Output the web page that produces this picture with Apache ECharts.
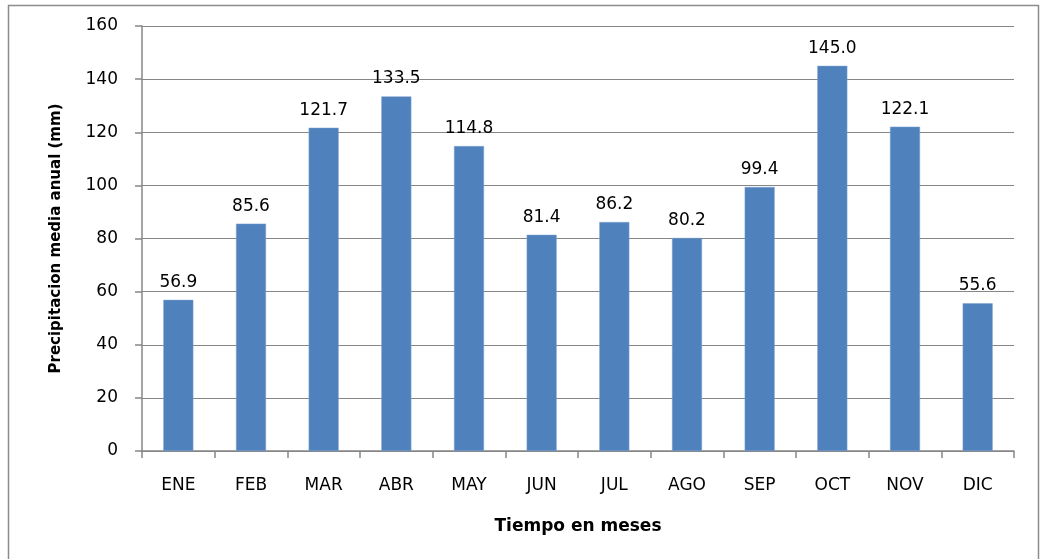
<!DOCTYPE html>
<html>
<head>
<meta charset="utf-8">
<script src="https://cdn.jsdelivr.net/npm/echarts@6/dist/echarts.min.js"></script>
<style>
html,body{margin:0;padding:0;background:#fff;}
#chart{width:1040px;height:559px;}
</style>
</head>
<body>
<div id="chart"></div>
<script>
const categories = ['ENE','FEB','MAR','ABR','MAY','JUN','JUL','AGO','SEP','OCT','NOV','DIC'];
const precipitation = [56.9, 85.6, 121.7, 133.5, 114.8, 81.4, 86.2, 80.2, 99.4, 145.0, 122.1, 55.6];
const yMin = 0, yMax = 160, yStep = 20;
const xTitle = 'Tiempo en meses';
const yTitle = 'Precipitacion media anual (mm)';

const FONT = '"DejaVu Sans", "Open Sans", sans-serif';
const chart = echarts.init(document.getElementById('chart'), null, {renderer: 'canvas'});
chart.setOption({
  backgroundColor: '#ffffff',
  animation: false,
  graphic: [{
    type: 'rect',
    shape: {x: 8.5, y: 5.5, width: 1030, height: 600},
    style: {fill: 'none', stroke: '#8c8c8c', lineWidth: 1.5},
    silent: true
  }],
  grid: {left: 142, right: 26, top: 26, bottom: 108},
  xAxis: {
    type: 'category',
    data: categories,
    boundaryGap: true,
    axisLine: {lineStyle: {color: '#868686', width: 1.5}},
    axisTick: {show: true, length: 7, alignWithLabel: false, lineStyle: {color: '#868686', width: 1.5}},
    axisLabel: {color: '#000', fontFamily: FONT, fontSize: 17, margin: 26},
    name: xTitle,
    nameLocation: 'middle',
    nameGap: 67,
    nameTextStyle: {color: '#000', fontFamily: FONT, fontSize: 17, fontWeight: 'bold'}
  },
  yAxis: {
    type: 'value',
    min: yMin, max: yMax, interval: yStep,
    axisLine: {show: true, lineStyle: {color: '#868686', width: 1.5}},
    axisTick: {show: true, length: 7, lineStyle: {color: '#868686', width: 1.5}},
    splitLine: {show: true, lineStyle: {color: '#868686', width: 1}},
    axisLabel: {color: '#000', fontFamily: FONT, fontSize: 17, margin: 24},
    name: yTitle,
    nameLocation: 'middle',
    nameGap: 78,
    nameRotate: 90,
    nameTextStyle: {color: '#000', fontFamily: FONT, fontSize: 15, fontWeight: 'bold'}
  },
  series: [{
    type: 'bar',
    data: precipitation,
    barWidth: 30,
    itemStyle: {color: '#4F81BD', borderColor: '#7FA3D0', borderWidth: 0.5},
    label: {
      show: true,
      position: 'top',
      distance: 9,
      color: '#000',
      fontFamily: FONT,
      fontSize: 17,
      formatter: p => p.value.toFixed(1)
    }
  }]
});
</script>
</body>
</html>
